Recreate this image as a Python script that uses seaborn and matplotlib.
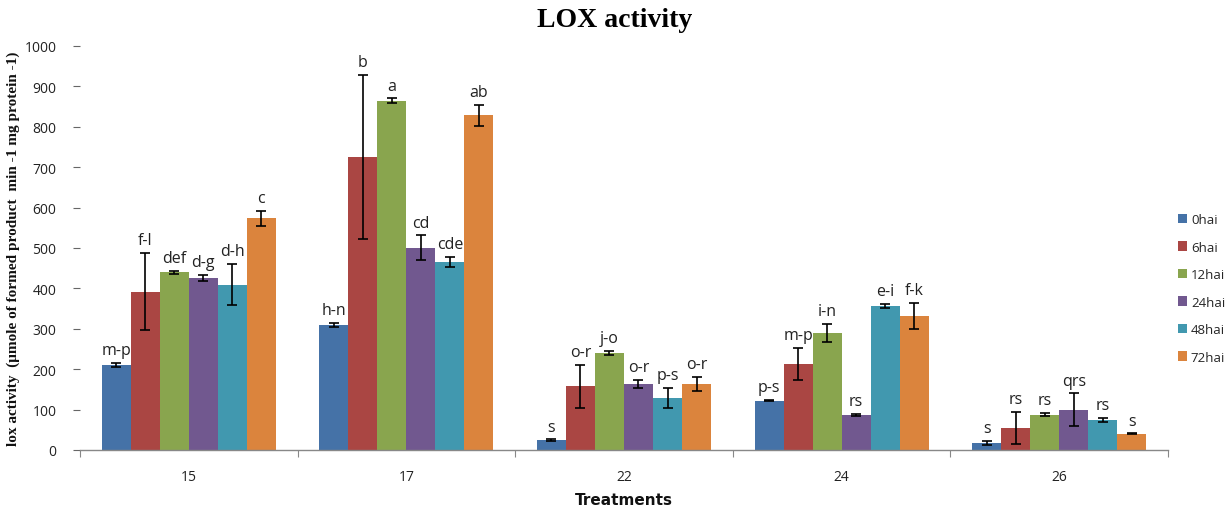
import numpy as np
import pandas as pd
import matplotlib
matplotlib.use("Agg")
import matplotlib.pyplot as plt
import seaborn as sns

sns.set_style("white")

treatments = ["15", "17", "22", "24", "26"]
times = ["0hai", "6hai", "12hai", "24hai", "48hai", "72hai"]

# mean values, one list per time point (treatments 15, 17, 22, 24, 26)
val_0hai = [211, 309, 24, 122, 18]
val_6hai = [392, 726, 158, 212, 55]
val_12hai = [440, 864, 240, 290, 87]
val_24hai = [425, 501, 163, 87, 100]
val_48hai = [409, 466, 129, 357, 74]
val_72hai = [573, 829, 163, 332, 40]

err_0hai = [5, 5, 2, 1, 5]
err_6hai = [95, 203, 53, 40, 40]
err_12hai = [4, 6, 5, 22, 4]
err_24hai = [8, 30, 10, 2, 40]
err_48hai = [51, 12, 24, 5, 5]
err_72hai = [19, 26, 18, 33, 1]

lab_0hai = ["m-p", "h-n", "s", "p-s", "s"]
lab_6hai = ["f-l", "b", "o-r", "m-p", "rs"]
lab_12hai = ["def", "a", "j-o", "i-n", "rs"]
lab_24hai = ["d-g", "cd", "o-r", "rs", "qrs"]
lab_48hai = ["d-h", "cde", "p-s", "e-i", "rs"]
lab_72hai = ["c", "ab", "o-r", "f-k", "s"]

colors = ["#4572A7", "#AA4643", "#89A54E", "#71588F", "#4198AF", "#DB843D"]

vals = [val_0hai, val_6hai, val_12hai, val_24hai, val_48hai, val_72hai]
errs = [err_0hai, err_6hai, err_12hai, err_24hai, err_48hai, err_72hai]
labs = [lab_0hai, lab_6hai, lab_12hai, lab_24hai, lab_48hai, lab_72hai]

rows = []
for t, v, e, l in zip(times, vals, errs, labs):
    for tr, vi, ei, li in zip(treatments, v, e, l):
        rows.append({"Treatments": tr, "time": t, "value": vi, "err": ei, "label": li})
df = pd.DataFrame(rows)

fig = plt.figure(figsize=(12.3, 5.1), dpi=100)
ax = fig.add_axes([0.065, 0.1157, 0.8846, 0.7923])

sns.barplot(data=df, x="Treatments", y="value", hue="time", order=treatments,
            hue_order=times, palette=colors, errorbar=None, width=0.8,
            saturation=1, edgecolor="none", linewidth=0, ax=ax)

for cont, t in zip(ax.containers, times):
    sub = df[df["time"] == t].set_index("Treatments").loc[treatments]
    xs = [p.get_x() + p.get_width() / 2 for p in cont.patches]
    ax.errorbar(xs, sub["value"], yerr=sub["err"], fmt="none", ecolor="black",
                elinewidth=1.2, capsize=3.5, capthick=1.2, zorder=5)
    for x, v, e, l in zip(xs, sub["value"], sub["err"], sub["label"]):
        ax.text(x, v + e + 12, l, ha="center", va="bottom", fontsize=11.5,
                family="Open Sans", color="#222222", zorder=6)

ax.set_ylim(0, 1000)
ax.set_xlim(-0.5, 4.5)
ax.set_yticks(np.arange(0, 1001, 100))
ax.tick_params(axis="y", which="major", left=True, length=5, width=0.8,
               color="#666666", labelsize=10, pad=12, labelcolor="#222222")
ax.tick_params(axis="x", which="major", bottom=False, labelsize=10, pad=10,
               labelcolor="#222222")
ax.set_xticks(np.arange(-0.5, 5, 1), minor=True)
ax.tick_params(axis="x", which="minor", bottom=True, length=5, width=0.8,
               color="#888888")
for lbl in ax.get_xticklabels() + ax.get_yticklabels():
    lbl.set_family("Open Sans")

for side in ["top", "right", "left"]:
    ax.spines[side].set_visible(False)
ax.spines["bottom"].set_color("#888888")
ax.spines["bottom"].set_linewidth(1.0)

ax.set_xlabel("Treatments", fontsize=11, fontweight="bold", family="DejaVu Sans",
              color="#111111", labelpad=6)
ax.set_ylabel("lox activity  (\u03bcmole of formed product  min -1 mg protein -1)",
              fontsize=11, fontweight="bold", family="Liberation Serif",
              color="#111111", labelpad=3)
fig.suptitle("LOX activity", x=0.5, y=0.985, fontsize=20, fontweight="bold",
             family="Liberation Serif", color="black")

leg = ax.legend(loc="center left", bbox_to_anchor=(0.998, 0.40), frameon=False,
                handlelength=0.7, handleheight=0.7, handletextpad=0.3,
                labelspacing=1.1, prop={"family": "Open Sans", "size": 9.5})
leg.set_title(None)

fig.savefig("out.png", dpi=100)
